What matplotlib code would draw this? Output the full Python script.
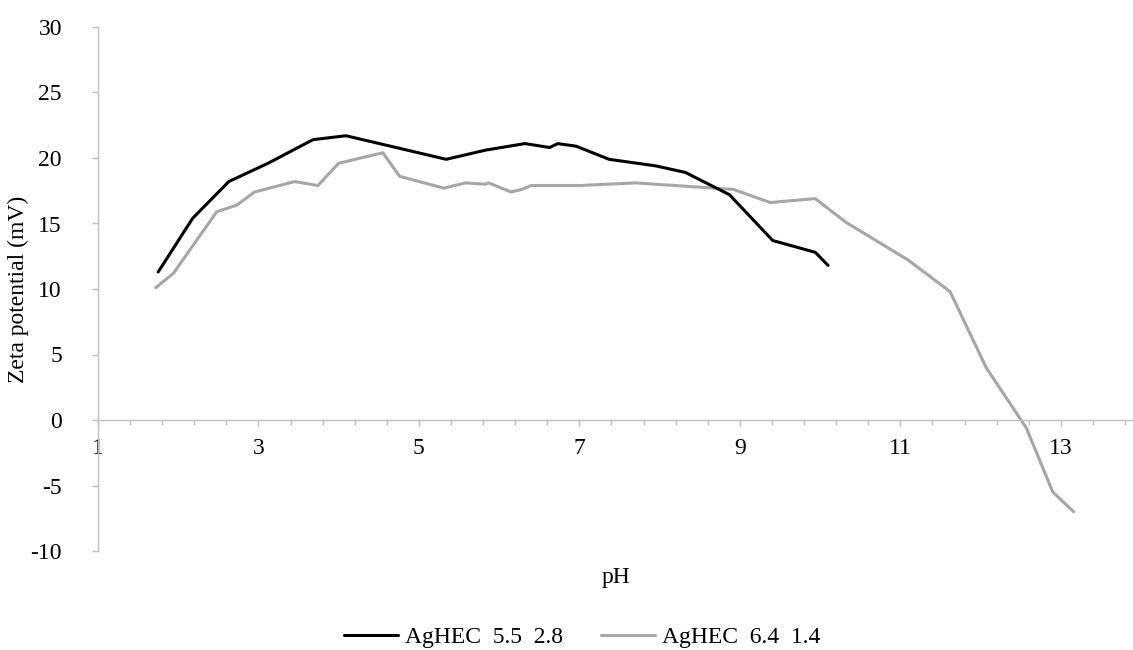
import matplotlib
matplotlib.use("Agg")
import matplotlib.pyplot as plt
from matplotlib.ticker import MultipleLocator, FixedLocator
import numpy as np

plt.rcParams['font.family'] = ['Liberation Serif', 'DejaVu Serif']
plt.rcParams['axes.unicode_minus'] = False

# Data
ph_a = [1.75, 2.18, 2.63, 3.12, 3.68, 4.09, 5.34, 5.83, 6.32, 6.63, 6.73, 6.96,
        7.37, 7.95, 8.32, 8.87, 9.41, 9.94, 10.10]
zeta_a = [11.3, 15.4, 18.2, 19.6, 21.4, 21.7, 19.9, 20.6, 21.1, 20.8, 21.1, 20.9,
          19.9, 19.4, 18.9, 17.2, 13.7, 12.8, 11.8]

ph_b = [1.72, 1.94, 2.48, 2.73, 2.95, 3.45, 3.74, 4.00, 4.55, 4.76, 5.31, 5.58,
        5.83, 5.87, 6.15, 6.28, 6.40, 7.00, 7.70, 8.92, 9.38, 9.94, 10.32, 11.10,
        11.62, 12.07, 12.57, 12.90, 13.16]
zeta_b = [10.1, 11.2, 15.9, 16.4, 17.4, 18.2, 17.9, 19.6, 20.4, 18.6, 17.7, 18.1,
          18.0, 18.1, 17.4, 17.6, 17.9, 17.9, 18.1, 17.6, 16.6, 16.9, 15.1, 12.2,
          9.8, 4.0, -0.6, -5.5, -7.0]

label_a = "AgHEC  5.5  2.8"
label_b = "AgHEC  6.4  1.4"
x_label = "pH"
y_label = "Zeta potential (mV)"
x_major = [1, 3, 5, 7, 9, 11, 13]

FS = 17
W, H = 1133, 650
fig = plt.figure(figsize=(W / 100, H / 100), dpi=100)
left, right = 98 / W, 1.0
bottom, top = 1 - 551 / H, 1 - 27 / H
ax = fig.add_axes([left, bottom, right - left, top - bottom])

axis_gray = '#BFBFBF'
la, = ax.plot(ph_a, zeta_a, color='black', lw=2.2, solid_joinstyle='round',
              solid_capstyle='round', label=label_a, zorder=3)
lb, = ax.plot(ph_b, zeta_b, color='#A6A6A6', lw=2.2, solid_joinstyle='round',
              solid_capstyle='round', label=label_b, zorder=2)

ax.set_xlim(1, 13.9)
ax.set_ylim(-10, 30)

ax.spines['top'].set_visible(False)
ax.spines['right'].set_visible(False)
ax.spines['left'].set_color(axis_gray)
ax.spines['bottom'].set_color(axis_gray)
ax.spines['left'].set_linewidth(1.0)
ax.spines['bottom'].set_linewidth(1.0)
ax.spines['bottom'].set_position(('data', 0))

ax.xaxis.set_major_locator(FixedLocator(x_major))
ax.xaxis.set_minor_locator(FixedLocator(np.arange(1, 13.95, 0.4)))
ax.yaxis.set_major_locator(MultipleLocator(5))

ax.tick_params(axis='x', which='major', direction='out', length=4, width=1,
               color=axis_gray, labelsize=FS, pad=9)
ax.tick_params(axis='x', which='minor', direction='out', length=3.5, width=1,
               color=axis_gray)
ax.tick_params(axis='y', which='major', direction='out', length=4, width=1,
               color=axis_gray, labelsize=FS, pad=22)

ax.set_ylabel(y_label, fontsize=FS)
ax.yaxis.set_label_coords(-0.067, 0.5)

fig.text((98 + 1133) / 2 / W, 1 - 577 / H, x_label, ha='center', va='center',
         fontsize=FS)

fig.legend(handles=[la, lb], loc='center', bbox_to_anchor=(582 / W, 1 - 637 / H),
           ncol=2, frameon=False, fontsize=FS, handlelength=2.3,
           handletextpad=0.3, columnspacing=1.6)

fig.savefig('out.png', dpi=100)
